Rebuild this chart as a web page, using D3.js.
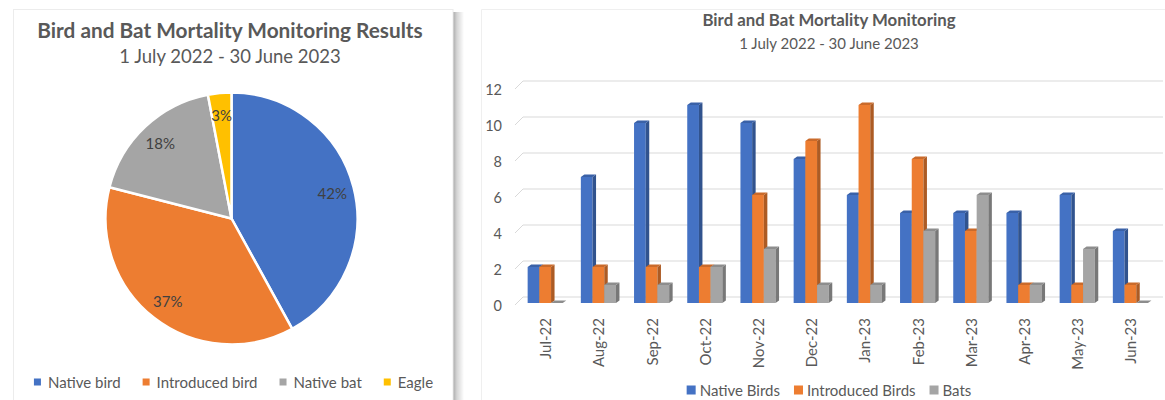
<!DOCTYPE html>
<html>
<head>
<meta charset="utf-8">
<script src="https://cdn.jsdelivr.net/npm/d3@7"></script>
<style>
  html, body { margin: 0; padding: 0; background: #fff; }
  svg { display: block; font-family: Lato, "Open Sans", sans-serif; }
</style>
</head>
<body>
<svg id="chart" width="1165" height="400"></svg>
<script>
// ---- Pie: share of carcasses by group ----
const pieCategories = ["Native bird", "Introduced bird", "Native bat", "Eagle"];
const pieShares = [42, 37, 18, 3];
const pieColors = ["#4472C4", "#ED7D31", "#A5A5A5", "#FFC000"];

// ---- Columns: monthly finds ----
const months = ["Jul-22", "Aug-22", "Sep-22", "Oct-22", "Nov-22", "Dec-22",
                "Jan-23", "Feb-23", "Mar-23", "Apr-23", "May-23", "Jun-23"];
const nativeBirds     = [2, 7, 10, 11, 10, 8, 6, 5, 5, 5, 6, 4];
const introducedBirds = [2, 2, 2, 2, 6, 9, 11, 8, 4, 1, 1, 1];
const bats            = [0, 1, 1, 2, 3, 1, 1, 4, 6, 1, 3, 0];
const seriesNames  = ["Native Birds", "Introduced Birds", "Bats"];
const seriesColors = ["#4472C4", "#ED7D31", "#A5A5A5"];
const yTicks = [0, 2, 4, 6, 8, 10, 12];

const svg = d3.select("#chart");
const textGrey = "#595959";

// ---------- panel frames ----------
const defs = svg.append("defs");
const shadow = defs.append("linearGradient").attr("id", "shadowGrad")
  .attr("x1", 0).attr("x2", 1).attr("y1", 0).attr("y2", 0);
shadow.append("stop").attr("offset", 0).attr("stop-color", "#a9a9a9");
shadow.append("stop").attr("offset", 0.35).attr("stop-color", "#d4d4d4");
shadow.append("stop").attr("offset", 1).attr("stop-color", "#ffffff");

svg.append("rect").attr("x", 453).attr("y", 12).attr("width", 11).attr("height", 400)
  .attr("fill", "url(#shadowGrad)");
svg.append("rect").attr("x", 13.5).attr("y", 9.5).attr("width", 439.5).attr("height", 400)
  .attr("fill", "#fff").attr("stroke", "#ececec");
svg.append("path").attr("d", "M481.5,420V9.5H1170")
  .attr("fill", "none").attr("stroke", "#efefef");

// ---------- left: pie ----------
const left = svg.append("g");
left.append("text").attr("x", 230).attr("y", 38).attr("text-anchor", "middle")
  .attr("font-size", 20.8).attr("font-weight", 700).attr("fill", textGrey)
  .text("Bird and Bat Mortality Monitoring Results");
left.append("text").attr("x", 230).attr("y", 63).attr("text-anchor", "middle")
  .attr("font-size", 18.5).attr("fill", textGrey)
  .text("1 July 2022 - 30 June 2023");

const cx = 231.5, cy = 218.5, R = 126;
const pie = d3.pie().sort(null).value(d => d)(pieShares);
const arc = d3.arc().innerRadius(0).outerRadius(R);
const labelArc = d3.arc().innerRadius(104).outerRadius(104);
const pg = left.append("g").attr("transform", `translate(${cx},${cy})`);
pg.selectAll("path.slice").data(pie).join("path").attr("class", "slice")
  .attr("d", arc).attr("fill", (d, i) => pieColors[i])
  .attr("stroke", "#fff").attr("stroke-width", 2.5).attr("stroke-linejoin", "round");
pg.selectAll("text.pct").data(pie).join("text").attr("class", "pct")
  .attr("transform", d => `translate(${labelArc.centroid(d)})`)
  .attr("text-anchor", "middle").attr("dominant-baseline", "central")
  .attr("font-size", 15).attr("fill", "#404040")
  .text(d => d.data + "%");

// legend (laid out from measured text widths, centred under the chart)
function legend(parent, names, colors, centreX, y, size, box, gapBox, gapItem) {
  const g = parent.append("g");
  const items = names.map((n, i) => {
    const t = g.append("text").attr("font-size", size).attr("fill", textGrey)
      .attr("dominant-baseline", "central").attr("y", y).text(n);
    return { t, w: t.node().getComputedTextLength(), c: colors[i] };
  });
  const total = d3.sum(items, d => box + gapBox + d.w) + gapItem * (items.length - 1);
  let x = centreX - total / 2;
  items.forEach(d => {
    g.append("rect").attr("x", x).attr("y", y - box / 2).attr("width", box).attr("height", box)
      .attr("fill", d.c);
    d.t.attr("x", x + box + gapBox);
    x += box + gapBox + d.w + gapItem;
  });
}
legend(left, pieCategories, pieColors, 233.5, 382, 15, 7, 7, 22);

// ---------- right: 3-D clustered columns ----------
const right = svg.append("g");
right.append("text").attr("x", 829).attr("y", 26).attr("text-anchor", "middle")
  .attr("font-size", 16.8).attr("font-weight", 700).attr("fill", textGrey)
  .text("Bird and Bat Mortality Monitoring");
right.append("text").attr("x", 829).attr("y", 49).attr("text-anchor", "middle")
  .attr("font-size", 15).attr("fill", textGrey)
  .text("1 July 2022 - 30 June 2023");

const y = d3.scaleLinear().domain([0, 12]).range([305, 89]);
const x = d3.scaleBand().domain(months).range([518.6, 1157]).padding(0);
const floorX = 515, wallDx = 8, wallDy = -8, wallRight = 1163;

// back-wall gridlines and the slanted floor/wall ticks
const grid = right.append("g").attr("stroke", "#d9d9d9").attr("fill", "none");
yTicks.forEach(v => {
  grid.append("path")
    .attr("d", `M${floorX},${y(v)}L${floorX + wallDx},${y(v) + wallDy}H${wallRight}`);
});
right.append("g").selectAll("text").data(yTicks).join("text")
  .attr("x", 502).attr("y", d => y(d)).attr("text-anchor", "end")
  .attr("dominant-baseline", "central").attr("font-size", 14.5).attr("fill", textGrey)
  .text(d => d);

// bars: front face, side face, top face
const seriesValues = [nativeBirds, introducedBirds, bats];
const clusterW = x.bandwidth() * 0.66;
const sub = d3.scaleBand().domain(d3.range(3))
  .range([0, clusterW]).padding(0);
const barBase = y(0) - 2, depthX = 3.5, depthY = -2.6;
const bars = right.append("g");
months.forEach((m, mi) => {
  const x0 = x(m) + (x.bandwidth() - clusterW) / 2;
  seriesValues.forEach((vals, si) => {
    const v = vals[mi];
    const bx = x0 + sub(si), bw = sub.bandwidth();
    const top = barBase - (y(0) - y(v));
    const base = d3.color(seriesColors[si]);
    const g = bars.append("g");
    g.append("rect").attr("x", bx).attr("y", top).attr("width", bw)
      .attr("height", barBase - top).attr("fill", base.formatHex());
    g.append("path")
      .attr("d", `M${bx + bw},${top}L${bx + bw + depthX},${top + depthY}L${bx + bw + depthX},${barBase + depthY}L${bx + bw},${barBase}Z`)
      .attr("fill", base.darker(0.9).formatHex());
    g.append("path")
      .attr("d", `M${bx},${top}L${bx + depthX},${top + depthY}L${bx + bw + depthX},${top + depthY}L${bx + bw},${top}Z`)
      .attr("fill", base.darker(0.45).formatHex());
  });
});

// month labels (rotated)
right.append("g").selectAll("text").data(months).join("text")
  .attr("transform", d => `translate(${x(d) + x.bandwidth() / 2},318) rotate(-90)`)
  .attr("text-anchor", "end").attr("dominant-baseline", "central")
  .attr("font-size", 15).attr("fill", textGrey)
  .text(d => d);

legend(right, seriesNames, seriesColors, 829, 390, 15, 9, 4, 14);
</script>
</body>
</html>
